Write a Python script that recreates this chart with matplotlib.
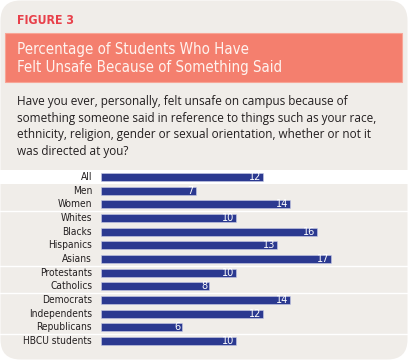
import matplotlib.pyplot as plt
from matplotlib.patches import FancyBboxPatch, Rectangle
from matplotlib.transforms import blended_transform_factory
from matplotlib import font_manager

# Data
groups = ['All', 'Men', 'Women', 'Whites', 'Blacks', 'Hispanics', 'Asians',
          'Protestants', 'Catholics', 'Democrats', 'Independents', 'Republicans',
          'HBCU students']
values = [12, 7, 14, 10, 16, 13, 17, 10, 8, 14, 12, 6, 10]
separators = [2.5, 6.5, 8.5, 11.5]  # white rules between groups of rows

figure_label = 'FIGURE 3'
title = 'Percentage of Students Who Have\nFelt Unsafe Because of Something Said'
question = ('Have you ever, personally, felt unsafe on campus because of\n'
            'something someone said in reference to things such as your race,\n'
            'ethnicity, religion, gender or sexual orientation, whether or not it\n'
            'was directed at you?')

CARD = '#f0ede9'
SALMON = '#f47f6e'
RED = '#e8404a'
NAVY = '#2b3990'

names = {f.name for f in font_manager.fontManager.ttflist}
narrow_name = next((n for n in ['Liberation Sans Narrow', 'DejaVu Sans Condensed']
                    if n in names), 'DejaVu Sans')
narrow = dict(family=[narrow_name, 'DejaVu Sans'], fontstretch='condensed')
body = dict(family=['Open Sans', 'DejaVu Sans'])

W, H = 408, 360
fig = plt.figure(figsize=(W / 100, H / 100), dpi=100)
fig.patch.set_facecolor('white')

# rounded card background (in inches so corners stay circular)
card = FancyBboxPatch((0.005, 0.005), W / 100 - 0.01, H / 100 - 0.01,
                      boxstyle='round,pad=0,rounding_size=0.2',
                      transform=fig.dpi_scale_trans, facecolor=CARD,
                      edgecolor='none', zorder=-3)
fig.patches.append(card)

def fx(px):
    return px / W

def fy(py):
    return 1 - py / H

# header
fig.text(fx(17), fy(21), figure_label, color=RED, fontsize=8.8,
         fontweight='bold', va='center', ha='left', **narrow)
fig.patches.append(Rectangle((fx(5), fy(82)), fx(397), (82 - 33) / H,
                             transform=fig.transFigure, facecolor=SALMON,
                             edgecolor='#f8a596', linewidth=0.8, zorder=-2))
fig.text(fx(17), fy(58.5), title, color='#fff3ef', fontsize=10.8,
         va='center', ha='left', linespacing=1.22, zorder=2, **narrow)

fig.text(fx(17), fy(126.5), question, color='#231f20', fontsize=8.5,
         va='center', ha='left', linespacing=1.37, **body)

# bar chart
top, pitch, n = 177, 13.67, len(groups)
y0 = top - pitch / 2
y1 = top + pitch * (n - 1) + pitch / 2
left, scale = 101, 13.5
xmax = 22
ax = fig.add_axes([fx(left), fy(y1), xmax * scale / W, (y1 - y0) / H])
ax.set_facecolor('none')
ax.set_xlim(0, xmax)
ax.set_ylim(n - 0.5, -0.5)
ax.axis('off')

ypos = list(range(n))
row_tr = blended_transform_factory(fig.transFigure, ax.transData)
ax.add_patch(Rectangle((0, -0.5), 1, 1, transform=row_tr, facecolor='white',
                       edgecolor='none', clip_on=False, zorder=0))
for s in separators:
    ax.plot([0, 1], [s, s], transform=row_tr, color='white', lw=1.0,
            clip_on=False, zorder=0)

ax.barh(ypos, values, height=0.6, color=NAVY, edgecolor='#c9cde6',
        linewidth=0.4, zorder=2)
for y, v, g in zip(ypos, values, groups):
    ax.text(v - 0.12, y, str(v), color='white', fontsize=7.8,
            ha='right', va='center', zorder=3, **narrow)
    ax.text(-0.65, y, g, color='#231f20', fontsize=7.3,
            ha='right', va='center', zorder=3, **narrow)

fig.savefig('out.png', dpi=100, facecolor='white')
